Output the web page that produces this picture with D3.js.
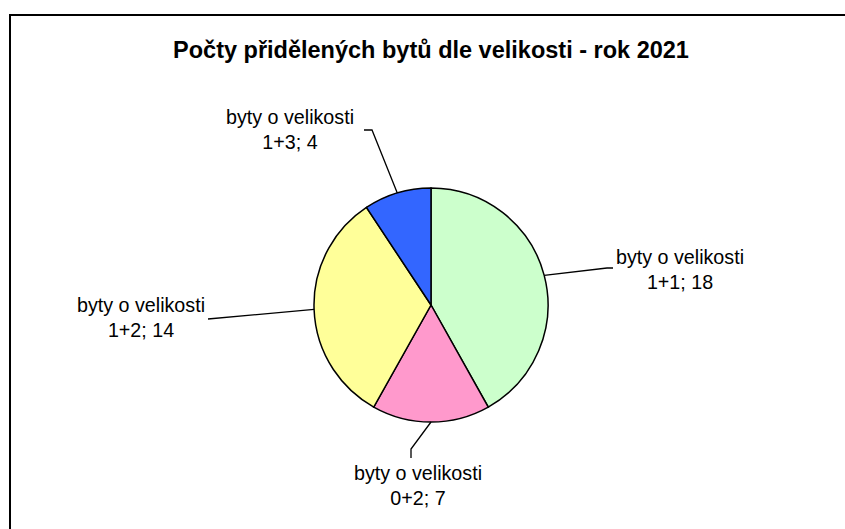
<!DOCTYPE html>
<html>
<meta charset="utf-8">
<style>
    body { margin: 0; background: #fff; }
    text { font-family: "Liberation Sans", Arial, sans-serif; fill: #000; }
    .title { font-size: 23.5px; font-weight: bold; }
    .lbl { font-size: 19.7px; }
</style>
<body>
<script src="https://cdn.jsdelivr.net/npm/d3@7"></script>
<div id="chart"></div>
<script>
    var categories = ["1+1", "0+2", "1+2", "1+3"];
    var counts = [18, 7, 14, 4];
    var sliceColors = ["#ccffcc", "#ff99cc", "#ffff99", "#3366ff"];

    // label anchor (text centre x, first baseline y) and the elbow of each leader
    var labelPos = {
        "1+1": {x: 680, y: 264, elbow: [[607, 268], [613, 268]]},
        "0+2": {x: 418, y: 480, elbow: [[411, 449], [411, 458]]},
        "1+2": {x: 141, y: 312, elbow: [[208, 319]]},
        "1+3": {x: 290, y: 124, elbow: [[372, 130], [364, 130]]}
    };

    var width = 845, height = 529;
    var cx = 431, cy = 305, r = 117;

    var svg = d3.select("#chart").append("svg")
        .attr("width", width)
        .attr("height", height);

    // chart frame, runs off the right and bottom edge
    svg.append("rect")
        .attr("x", 10).attr("y", 15)
        .attr("width", 860).attr("height", 540)
        .attr("fill", "none")
        .attr("stroke", "#000")
        .attr("stroke-width", 2);

    svg.append("text")
        .attr("class", "title")
        .attr("x", cx).attr("y", 58)
        .attr("text-anchor", "middle")
        .text("Počty přidělených bytů dle velikosti - rok 2021");

    var data = categories.map(function (c, i) {
        return {name: c, value: counts[i], color: sliceColors[i]};
    });

    var pie = d3.pie().sort(null).value(function (d) { return d.value; });
    var arc = d3.arc().innerRadius(0).outerRadius(r);
    var edge = d3.arc().innerRadius(r).outerRadius(r);

    var g = svg.append("g").attr("transform", "translate(" + cx + "," + cy + ")");
    var arcs = pie(data);

    g.selectAll("path.slice")
        .data(arcs)
        .enter().append("path")
        .attr("class", "slice")
        .attr("d", arc)
        .attr("fill", function (d) { return d.data.color; })
        .attr("stroke", "#000")
        .attr("stroke-width", 1.5);

    // leader lines
    svg.selectAll("polyline.leader")
        .data(arcs)
        .enter().append("polyline")
        .attr("class", "leader")
        .attr("fill", "none")
        .attr("stroke", "#000")
        .attr("stroke-width", 1.3)
        .attr("points", function (d) {
            var c = edge.centroid(d);
            var pts = [[c[0] + cx, c[1] + cy]].concat(labelPos[d.data.name].elbow);
            return pts.map(function (p) { return p.join(","); }).join(" ");
        });

    var labels = svg.selectAll("text.lbl")
        .data(arcs)
        .enter().append("text")
        .attr("class", "lbl")
        .attr("text-anchor", "middle")
        .attr("x", function (d) { return labelPos[d.data.name].x; })
        .attr("y", function (d) { return labelPos[d.data.name].y; });

    labels.append("tspan")
        .attr("x", function (d) { return labelPos[d.data.name].x; })
        .text("byty o velikosti");
    labels.append("tspan")
        .attr("x", function (d) { return labelPos[d.data.name].x; })
        .attr("dy", 25)
        .text(function (d) { return d.data.name + "; " + d.data.value; });
</script>
</body>
</html>
